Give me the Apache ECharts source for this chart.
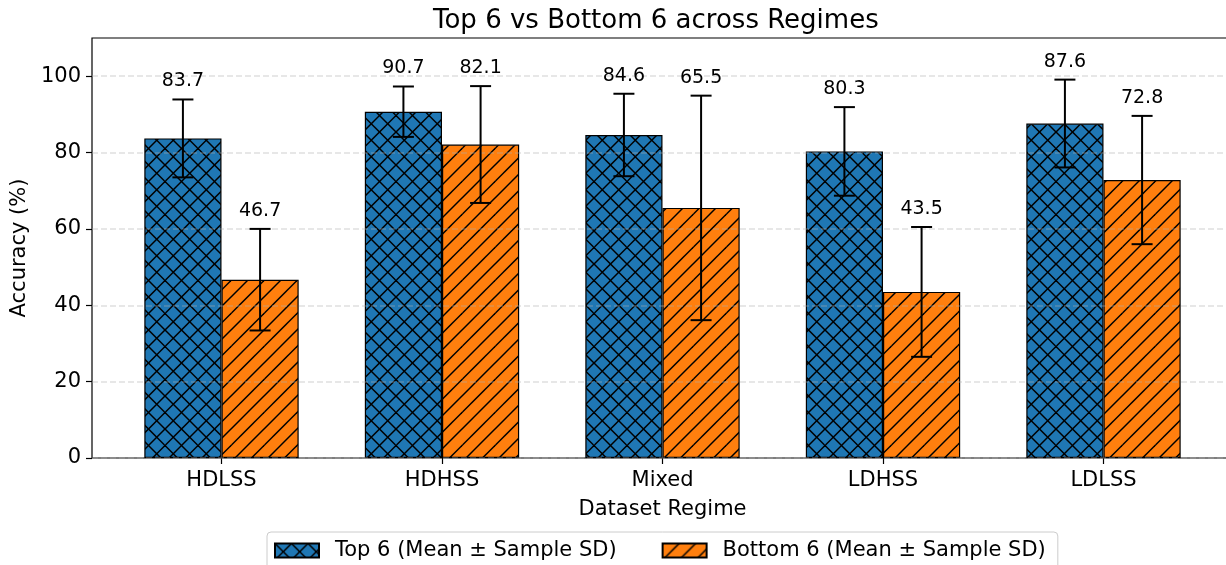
<!DOCTYPE html>
<html>
<head>
<meta charset="utf-8">
<script src="https://cdn.jsdelivr.net/npm/echarts@6/dist/echarts.min.js"></script>
<style>
html,body{margin:0;padding:0;background:#fff;}
#chart{width:1226px;height:565px;}
</style>
</head>
<body>
<div id="chart"></div>
<script>
const categories = ['HDLSS', 'HDHSS', 'Mixed', 'LDHSS', 'LDLSS'];
const topMean = [83.7, 90.7, 84.6, 80.3, 87.6];
const topSD = [10.2, 6.6, 10.8, 11.6, 11.5];
const bottomMean = [46.7, 82.1, 65.5, 43.5, 72.8];
const bottomSD = [13.3, 15.3, 29.4, 17.0, 16.8];
const yTicks = [0, 20, 40, 60, 80, 100];
const seriesNames = ['Top 6 (Mean \u00b1 Sample SD)', 'Bottom 6 (Mean \u00b1 Sample SD)'];

const FONT = 'DejaVu Sans';

function hatch(bg, s, cross, lw) {
  const n = 2, size = Math.round(s * n);
  const c = document.createElement('canvas');
  c.width = size; c.height = size;
  const ctx = c.getContext('2d');
  ctx.fillStyle = bg; ctx.fillRect(0, 0, size, size);
  ctx.strokeStyle = '#000'; ctx.lineWidth = lw;
  const step = size / n;
  for (let k = -2; k <= 2 * n + 2; k++) {
    const c0 = k * step;
    ctx.beginPath();
    ctx.moveTo(c0 - 2 * size, 2 * size); ctx.lineTo(c0 + 2 * size, -2 * size);
    ctx.stroke();
    if (cross) {
      ctx.beginPath();
      ctx.moveTo(c0 - 2 * size, -2 * size); ctx.lineTo(c0 + 2 * size, 2 * size);
      ctx.stroke();
    }
  }
  return { image: c, repeat: 'repeat' };
}

const blueFill = hatch('#1f77b4', 16.5, true, 1.5);
const orangeFill = hatch('#ff7f0e', 16.5, false, 1.5);

const chart = echarts.init(document.getElementById('chart'), null, { renderer: 'canvas' });

const errData = categories.map((c, i) => [i, topMean[i], topSD[i], bottomMean[i], bottomSD[i]]);

function renderErr(params, api) {
  const i = api.value(0);
  const band = api.size([1, 0])[0];
  const off = band * 0.175;
  const cap = 10.5;
  const children = [];
  const sets = [[api.value(1), api.value(2), -off], [api.value(3), api.value(4), off]];
  sets.forEach(function (s) {
    const m = s[0], sd = s[1], dx = s[2];
    const pTop = api.coord([i, m + sd]);
    const pBot = api.coord([i, m - sd]);
    const x = pTop[0] + dx;
    const st = { stroke: '#000', lineWidth: 2 };
    children.push({ type: 'line', shape: { x1: x, y1: pTop[1], x2: x, y2: pBot[1] }, style: st });
    children.push({ type: 'line', shape: { x1: x - cap, y1: pTop[1], x2: x + cap, y2: pTop[1] }, style: st });
    children.push({ type: 'line', shape: { x1: x - cap, y1: pBot[1], x2: x + cap, y2: pBot[1] }, style: st });
    children.push({ type: 'text', style: { x: x, y: pTop[1] - 18, text: m.toFixed(1), fill: '#000', font: '19px "DejaVu Sans"', align: 'center', verticalAlign: 'middle' } });
  });
  return { type: 'group', children: children };
}

const option = {
  animation: false,
  backgroundColor: '#fff',
  title: {
    text: 'Top 6 vs Bottom 6 across Regimes',
    left: 428, top: 3,
    textStyle: { fontFamily: FONT, fontSize: 26, fontWeight: 'normal', color: '#000' }
  },
  legend: {
    data: seriesNames,
    left: 267, top: 532,
    padding: [8, 12, 12, 7],
    itemWidth: 44, itemHeight: 14, itemGap: 45,
    borderColor: '#cccccc', borderWidth: 1, borderRadius: 4,
    icon: 'rect',
    textStyle: { fontFamily: FONT, fontSize: 21, color: '#000', padding: [0, 0, 0, 11] }
  },
  grid: [
    { left: 111.25, width: 1102.5, top: 38, bottom: 107, containLabel: false, outerBoundsMode: 'none' },
    { left: 92, width: 1141, top: 38, bottom: 107, show: true, borderColor: '#000', borderWidth: 1.2, backgroundColor: 'transparent', containLabel: false, outerBoundsMode: 'none' }
  ],
  xAxis: [
    {
      type: 'category', gridIndex: 0, data: categories,
      boundaryGap: true,
      axisLine: { show: false },
      axisTick: { show: true, alignWithLabel: true, length: 6, lineStyle: { color: '#000', width: 1.2 } },
      axisLabel: { fontFamily: FONT, fontSize: 21, color: '#000', margin: 12 },
      name: 'Dataset Regime', nameLocation: 'middle', nameGap: 41,
      nameTextStyle: { fontFamily: FONT, fontSize: 21, color: '#000' }
    },
    { type: 'value', gridIndex: 1, min: 0, max: 1, show: false }
  ],
  yAxis: [
    { type: 'value', gridIndex: 0, min: 0, max: 110, show: false, splitLine: { show: false } },
    {
      type: 'value', gridIndex: 1, min: 0, max: 110, interval: 20, z: 3,
      axisLine: { show: false },
      axisTick: { show: true, length: 6, lineStyle: { color: '#000', width: 1.2 }, customValues: yTicks },
      axisLabel: { fontFamily: FONT, fontSize: 21, color: '#000', margin: 11, customValues: yTicks },
      splitLine: { show: true, lineStyle: { color: 'rgba(176,176,176,0.4)', width: 1.5, type: [6, 3] } },
      name: 'Accuracy (%)', nameLocation: 'middle', nameGap: 59, nameRotate: 90,
      nameTextStyle: { fontFamily: FONT, fontSize: 21, color: '#000' }
    }
  ],
  series: [
    {
      name: seriesNames[0], type: 'bar', xAxisIndex: 0, yAxisIndex: 0,
      data: topMean, barWidth: '35%', barGap: '0%',
      itemStyle: { color: blueFill, borderColor: '#000', borderWidth: 1.2 }
    },
    {
      name: seriesNames[1], type: 'bar', xAxisIndex: 0, yAxisIndex: 0,
      data: bottomMean, barWidth: '35%', barGap: '0%',
      itemStyle: { color: orangeFill, borderColor: '#000', borderWidth: 1.2 }
    },
    {
      type: 'custom', xAxisIndex: 0, yAxisIndex: 0, z: 5,
      data: errData, renderItem: renderErr, silent: true
    }
  ]
};
chart.setOption(option);
</script>
</body>
</html>
